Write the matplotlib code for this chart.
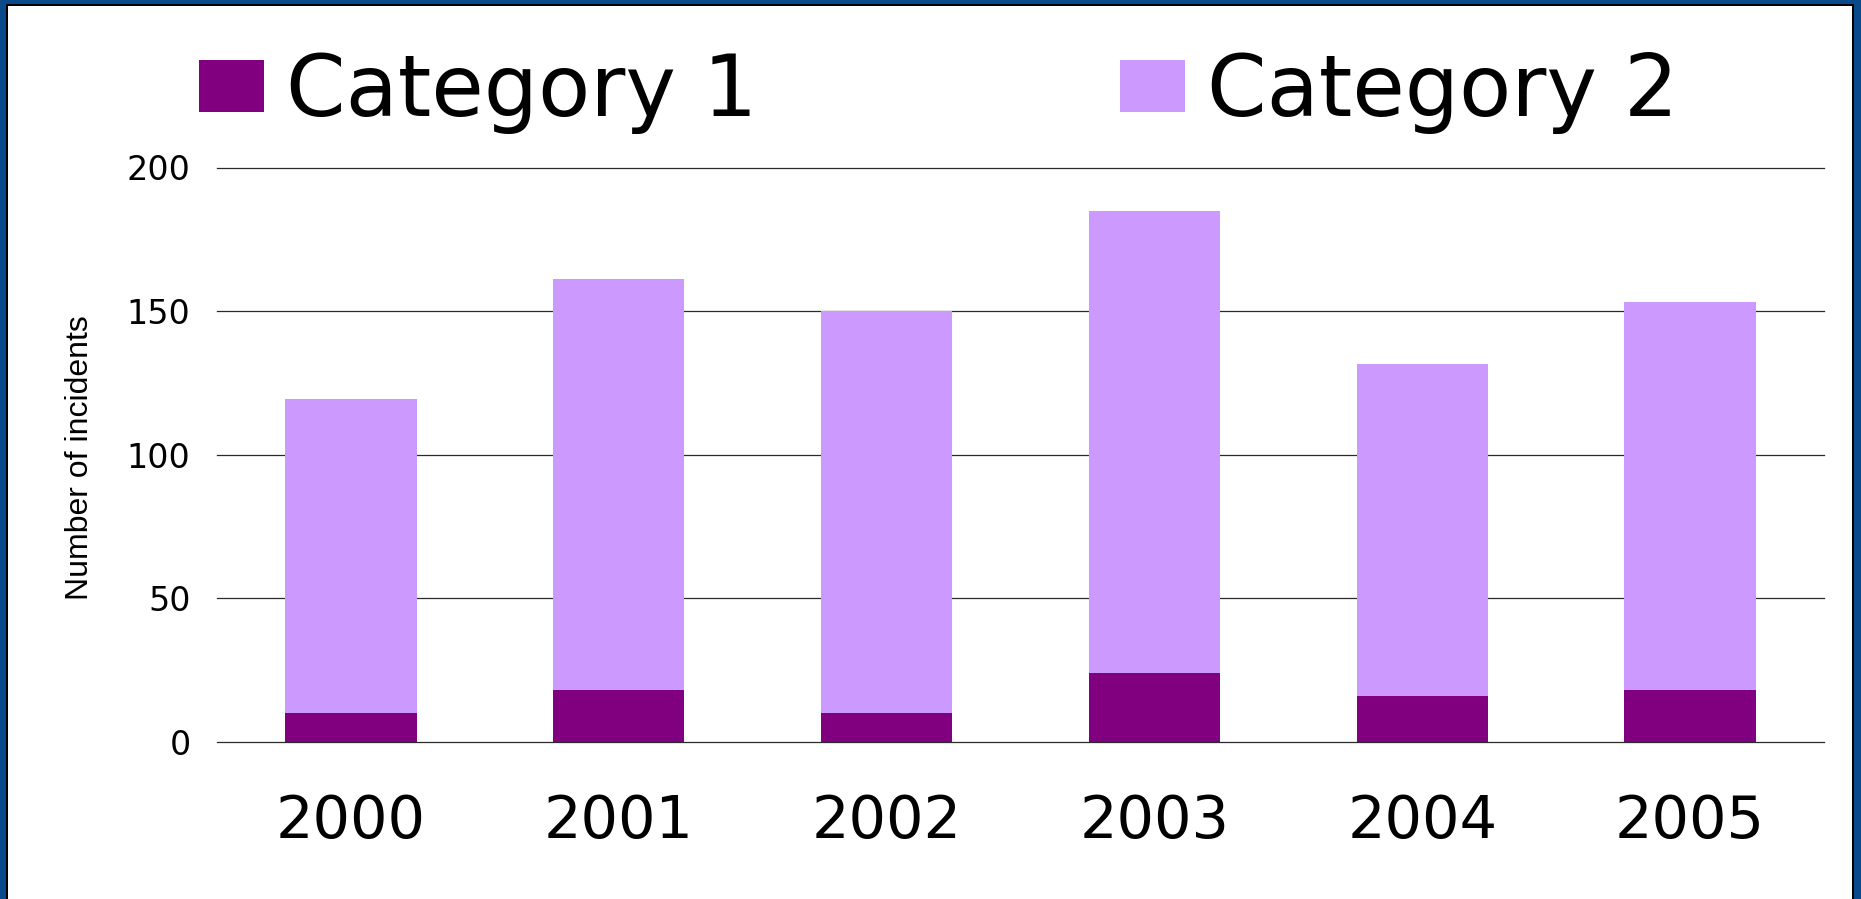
import matplotlib
matplotlib.use("Agg")
import matplotlib.pyplot as plt
from matplotlib.patches import Rectangle
import numpy as np

# ---- data ----
years = ["2000", "2001", "2002", "2003", "2004", "2005"]
category1 = [10, 18, 10, 24, 16, 18]
category2 = [109.5, 143, 140, 161, 115.5, 135]
series_names = ["Category 1", "Category 2"]
y_ticks = [0, 50, 100, 150, 200]
y_label = "Number of incidents"

color1 = "#800080"
color2 = "#CC99FF"

plt.rcParams['font.family'] = ['DejaVu Sans']

W, H = 1861, 899
fig = plt.figure(figsize=(W / 100, H / 100), dpi=100)
fig.patch.set_facecolor("white")

# frame (blue outer border + thin black inner line), bottom edge cropped
blue = "#0B4A8A"
for (x0, y0, w, h, c) in [
    (0, 0, 6, H, blue), (6, 4, 2, H - 4, "black"),
    (W - 7, 0, 7, H, blue), (W - 9, 4, 2, H - 4, "black"),
    (0, 0, W, 4, blue), (6, 4, W - 15, 2, "black"),
]:
    fig.patches.append(Rectangle((x0 / W, 1 - (y0 + h) / H), w / W, h / H,
                                 transform=fig.transFigure, facecolor=c,
                                 edgecolor="none", zorder=10))

left, right = 217 / W, 1824 / W
bottom, top = 1 - 741.7 / H, 1 - 167.5 / H
ax = fig.add_axes([left, bottom, right - left, top - bottom])

x = np.arange(len(years))
b1 = ax.bar(x, category1, width=0.49, color=color1, label=series_names[0], zorder=2)
b2 = ax.bar(x, category2, width=0.49, bottom=category1, color=color2,
            label=series_names[1], zorder=2)

ax.set_xlim(-0.5, len(years) - 0.5)
ax.set_ylim(0, 200)
ax.set_yticks(y_ticks)
ax.set_yticklabels([str(v) for v in y_ticks])
ax.set_xticks(x)
ax.set_xticklabels(years)
for s in ax.spines.values():
    s.set_visible(False)
ax.yaxis.grid(True, color="#2a2a2a", linewidth=0.9, zorder=1)
ax.set_axisbelow(True)
for gl in ax.get_ygridlines():
    gl.set_clip_on(False)
ax.tick_params(axis="x", length=0, pad=37, labelsize=42.5)
ax.tick_params(axis="y", length=0, pad=19, labelsize=24)

ax.set_ylabel(y_label, family=["Liberation Sans", "DejaVu Sans"], fontsize=23,
              va="center", ha="center")
ax.yaxis.set_label_coords((80.5 - 217) / 1607, 0.495)

fig.legend(handles=[b1, b2], labels=series_names, loc="upper left",
           bbox_to_anchor=(199 / W, 1 - 51 / H), ncol=2, frameon=False,
           fontsize=61.5, handlelength=0.761, handleheight=0.56,
           handletextpad=0.258, columnspacing=4.24, borderpad=0,
           borderaxespad=0)

fig.savefig("out.png", dpi=100)
